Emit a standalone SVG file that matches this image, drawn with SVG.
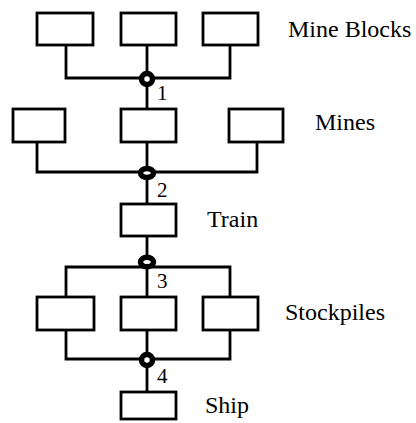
<svg xmlns="http://www.w3.org/2000/svg" width="416" height="423" viewBox="0 0 416 423">
<style>
.box{fill:#fff;stroke:#000;stroke-width:2.8}
.ln{fill:none;stroke:#000;stroke-width:2.8}
.jn{fill:#fff;stroke:#000;stroke-width:5.5}
.lbl{font-family:"Liberation Serif","Times New Roman",serif;font-size:24px;fill:#000}
.num{font-family:"Liberation Serif","Times New Roman",serif;font-size:21px;fill:#000}
</style>
<rect width="416" height="423" fill="#fff"/>
<g id="connectors">
<path class="ln" d="M66 45V78H230V45M147 45V110"/>
<path class="ln" d="M37 142V172H257V142M147 142V204"/>
<path class="ln" d="M147 236V297M66 297V267H230V297"/>
<path class="ln" d="M66 330V359H230V330M147 330V392"/>
</g>
<g id="j1"><circle class="jn" cx="147" cy="79" r="5.5"/><text class="num" x="157" y="100">1</text></g>
<g id="j2"><ellipse class="jn" cx="147" cy="173" rx="6.5" ry="4.5"/><text class="num" x="157" y="197">2</text></g>
<g id="j3"><ellipse class="jn" cx="147" cy="262" rx="6.5" ry="4.8"/><text class="num" x="157" y="288">3</text></g>
<g id="j4"><circle class="jn" cx="147" cy="360" r="5.5"/><text class="num" x="157" y="383">4</text></g>
<g id="mineblocks">
<rect class="box" x="37" y="13" width="56" height="32"/>
<rect class="box" x="121" y="13" width="55" height="32"/>
<rect class="box" x="203" y="13" width="55" height="32"/>
<text class="lbl" x="288" y="37">Mine Blocks</text>
</g>
<g id="mines">
<rect class="box" x="13" y="109" width="52" height="33"/>
<rect class="box" x="121" y="109" width="55" height="33"/>
<rect class="box" x="229" y="109" width="54" height="33"/>
<text class="lbl" x="315" y="130">Mines</text>
</g>
<g id="train">
<rect class="box" x="121" y="204" width="55" height="32"/>
<text class="lbl" x="207" y="227">Train</text>
</g>
<g id="stockpiles">
<rect class="box" x="37" y="297" width="57" height="33"/>
<rect class="box" x="121" y="297" width="55" height="33"/>
<rect class="box" x="203" y="297" width="55" height="33"/>
<text class="lbl" x="285" y="320">Stockpiles</text>
</g>
<g id="ship">
<rect class="box" x="121" y="392" width="55" height="27"/>
<text class="lbl" x="205" y="413">Ship</text>
</g>
</svg>
